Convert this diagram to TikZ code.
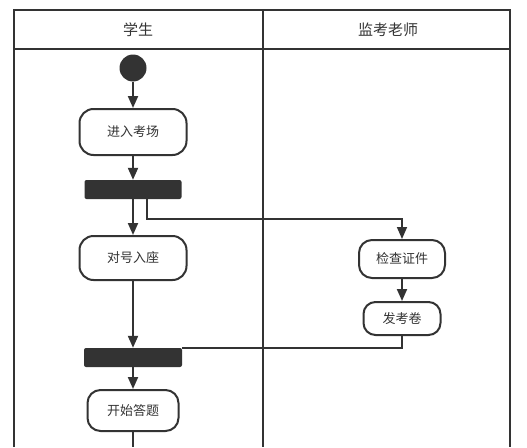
\documentclass[tikz,border=0pt]{standalone}
\usepackage{fontspec}
\newfontfamily\cjk{Noto Sans CJK SC}
\usepackage{tikz}
\usetikzlibrary{arrows.meta}
\definecolor{umlgray}{HTML}{333333}

\begin{document}
\begin{tikzpicture}[x=1pt,y=-1pt,
  act/.style={draw=umlgray,line width=2pt,rounded corners=14pt,fill=white,text=umlgray,font=\cjk\fontsize{13}{15}\selectfont,inner sep=0pt},
  bar/.style={fill=umlgray,rounded corners=2pt,minimum width=97pt,minimum height=19pt,inner sep=0pt},
  flow/.style={draw=umlgray,line width=2pt,-{Triangle[width=10pt,length=12pt]}},
  link/.style={draw=umlgray,line width=1.6pt},
  lane/.style={text=umlgray,font=\cjk\fontsize{15}{17}\selectfont}]
\useasboundingbox (0,0) rectangle (527,447);
% swimlanes
\draw[umlgray,line width=2pt] (14,447) -- (14,10) -- (510,10) -- (510,447);
\draw[umlgray,line width=2pt] (14,49) -- (510,49);
\draw[umlgray,line width=2pt] (263,10) -- (263,447);
\node[lane] (student) at (138,30) {学生};
\node[lane] (teacher) at (388,30) {监考老师};
% activities
\node[circle,fill=umlgray,minimum size=27pt,inner sep=0pt] (start) at (133,68) {};
\node[act,minimum width=107pt,minimum height=46pt] (enter) at (133,132) {进入考场};
\node[bar] (fork) at (133,189.5) {};
\node[act,minimum width=107pt,minimum height=44pt] (seat) at (133,258) {对号入座};
\node[act,minimum width=86pt,minimum height=38pt,rounded corners=13pt] (check) at (402,259) {检查证件};
\node[act,minimum width=77pt,minimum height=33pt,rounded corners=12pt] (paper) at (402,318.5) {发考卷};
\node[bar,minimum width=98pt] (join) at (133,357.5) {};
\node[act,minimum width=91pt,minimum height=41pt,rounded corners=13pt] (answer) at (133,410.5) {开始答题};
\coordinate (turn) at (402,219);
\coordinate (out) at (133,447);
% flows
\draw[flow] (start) -- (enter);
\draw[flow] (enter) -- (fork);
\draw[flow] (fork) -- (seat);
\draw[link,-{Triangle[width=10pt,length=12pt]}] ([xshift=14pt]fork.south) |- (turn) -- (check);
\draw[flow] (check) -- (paper);
\draw[flow] (seat) -- (join);
\draw[link,line width=2pt] (paper.south) |- (join.north east);
\draw[flow] (join) -- (answer);
\draw[link,line width=2pt] (answer) -- (out);
\end{tikzpicture}
\end{document}
